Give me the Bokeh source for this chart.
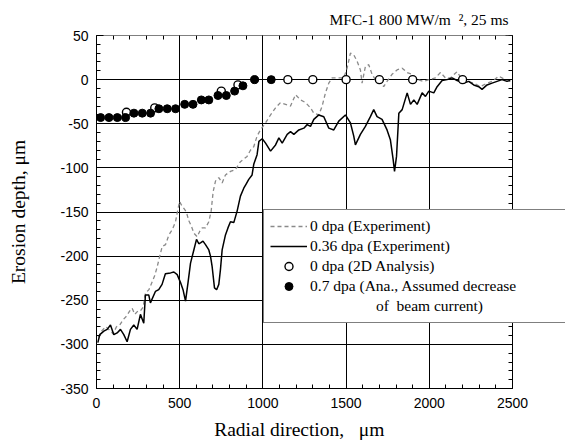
from bokeh.plotting import figure
from bokeh.models import (LinearAxis, Range1d, SingleIntervalTicker, Legend, LegendItem,
                          Grid, Title, PrintfTickFormatter)
from bokeh.embed import file_html
from bokeh.resources import INLINE

# ---------------- data ----------------
# 0.36 dpa (Experiment) - solid black
exp036_x = [8, 20, 44, 64, 84, 104, 124, 144, 164, 184, 204, 224, 244, 264, 284, 294, 314, 324,
            354, 374, 394, 414, 445, 465, 485, 505, 520, 535, 550, 565, 585, 601, 615, 625, 640,
            655, 675, 685, 695, 709, 722, 735, 745, 755, 775, 790, 805, 825, 845, 865, 885, 900,
            915, 935, 945, 965, 976, 996, 1016, 1046, 1076, 1096, 1116, 1146, 1166, 1186, 1216,
            1246, 1266, 1286, 1306, 1336, 1366, 1396, 1426, 1456, 1496, 1526, 1546, 1556, 1586,
            1616, 1646, 1666, 1686, 1716, 1746, 1766, 1783, 1791, 1803, 1817, 1837, 1867, 1887,
            1907, 1927, 1957, 1977, 1997, 2027, 2047, 2077, 2107, 2137, 2167, 2207, 2237, 2267,
            2297, 2317, 2347, 2377, 2407, 2437, 2467, 2487]
exp036_y = [-298, -289, -285, -283, -278, -289, -287, -283, -289, -297, -283, -278, -283, -266,
            -276, -244, -244, -253, -240, -238, -232, -220, -219, -218, -221, -230, -238, -251,
            -230, -208, -193, -181, -186, -185, -183, -187, -193, -200, -212, -236, -238, -232,
            -215, -193, -176, -168, -161, -162, -149, -132, -123, -118, -113, -108, -96, -85,
            -70, -67, -72, -81, -74, -66, -72, -62, -59, -62, -57, -55, -51, -53, -45, -40, -42,
            -55, -57, -47, -40, -49, -64, -74, -62, -53, -42, -34, -42, -45, -57, -68, -91, -104,
            -87, -38, -34, -15, -28, -23, -28, -15, -19, -13, -15, -8, -1, 0, 2, -1, -4, -2, -6,
            -8, -11, -6, -4, -2, 0, -2, -1]

# 0 dpa (Experiment) - grey dashed
exp0_x = [10, 30, 55, 80, 100, 120, 140, 160, 180, 200, 214, 230, 250, 264, 280, 294, 315, 335,
          350, 365, 380, 395, 415, 435, 455, 475, 489, 500, 510, 525, 540, 555, 570, 585, 605,
          620, 635, 655, 675, 689, 701, 715, 735, 755, 775, 805, 835, 865, 905, 925, 945, 965,
          985, 1016, 1046, 1076, 1106, 1136, 1166, 1196, 1226, 1256, 1286, 1306, 1336, 1356,
          1376, 1396, 1416, 1456, 1486, 1506, 1526, 1546, 1566, 1586, 1596, 1616, 1636, 1656,
          1676, 1706, 1726, 1746, 1776, 1806, 1837, 1867, 1897, 1927, 1967, 1997, 2037, 2067,
          2097, 2127, 2167, 2197, 2227, 2267, 2307, 2347, 2377, 2417, 2457, 2487]
exp0_y = [-292, -285, -280, -284, -288, -280, -278, -272, -268, -262, -259, -266, -262, -262,
          -258, -242, -238, -229, -222, -212, -200, -189, -187, -176, -170, -161, -147, -138,
          -142, -146, -150, -160, -166, -174, -178, -172, -168, -168, -161, -149, -127, -115,
          -111, -117, -108, -104, -102, -93, -87, -80, -76, -64, -57, -49, -40, -32, -26, -28,
          -30, -17, -23, -26, -32, -38, -40, -30, -15, -4, 2, 2, 2, 13, 30, 28, 21, 11, -4, 15,
          17, 6, 0, -2, -8, -2, 6, 11, 13, 8, 6, 0, -2, 0, 2, 8, 2, 2, 9, 0, -2, -4, -8, -4,
          -2, 4, 0, -1]

# 0 dpa (2D Analysis) - open circles
ana0_x = [180, 350, 750, 850, 1150, 1300, 1500, 1700, 1900, 2200]
ana0_y = [-37, -32, -13, -6, 0, 0, 0, 0, 0, 0]

# 0.7 dpa (Ana., assumed decrease of beam current) - filled circles
ana07_x = [25, 75, 125, 175, 225, 275, 325, 375, 425, 475, 530, 580, 630, 675, 730, 780, 830,
           880, 950, 1050]
ana07_y = [-43, -43, -43, -43, -38, -38, -38, -33, -33, -33, -28, -28, -23, -23, -18, -18, -13,
           -7, 0, 0]

legend_labels = ["0 dpa (Experiment)", "0.36 dpa (Experiment)", "0 dpa (2D Analysis)",
                 "0.7 dpa (Ana., Assumed decrease", "of\u00a0 beam current)"]
title_text = "MFC-1 800 MW/m\u00a0\u00a0\u00b2, 25 ms"
x_label = "Radial direction,\u00a0\u00a0\u00a0\u03bcm"
y_label = "Erosion depth, \u03bcm"

X_MIN, X_MAX = 0, 2500
Y_MIN, Y_MAX = -350, 50

# ---------------- figure ----------------
SERIF = "Liberation Serif"
SANS = "Liberation Sans"

# The frame runs to the right edge of the page so that the legend box can
# reach past the right axis, as in the original; the axes are bounded at 2500.
FRAME_L, AXIS_R, PAGE_W = 96, 512, 565
x_end = X_MAX * (PAGE_W - FRAME_L) / (AXIS_R - FRAME_L)

p = figure(width=565, height=444, output_backend="svg", toolbar_location=None,
           x_range=Range1d(X_MIN, x_end), y_range=Range1d(Y_MIN, Y_MAX),
           x_axis_type=None, y_axis_type=None,
           min_border_left=FRAME_L, min_border_right=0, min_border_top=35, min_border_bottom=56)
p.outline_line_color = None
p.background_fill_color = "white"
p.border_fill_color = "white"

xt = SingleIntervalTicker(interval=500, num_minor_ticks=5)
yt = SingleIntervalTicker(interval=50, num_minor_ticks=5)


def style_axis(ax, show_labels):
    ax.axis_line_color = "black"
    ax.axis_line_width = 1
    ax.major_tick_line_color = "black"
    ax.minor_tick_line_color = "black"
    ax.major_tick_in = 7
    ax.major_tick_out = 0
    ax.minor_tick_in = 4
    ax.minor_tick_out = 0
    ax.formatter = PrintfTickFormatter(format="%d")
    ax.major_label_text_font = SANS
    ax.major_label_text_font_size = "14px"
    ax.major_label_text_color = "black" if show_labels else None


# the label is centred on the frame, which runs past the axis end: trailing
# no-break spaces bring the visible words back over the 0-2500 axis
xb = LinearAxis(ticker=xt, axis_label=x_label + "\u00a0" * 13, bounds=(X_MIN, X_MAX))
style_axis(xb, True)
xb.major_label_standoff = 9
xb.axis_label_text_font = SERIF
xb.axis_label_text_font_style = "normal"
xb.axis_label_text_font_size = "19.5px"
xb.axis_label_text_color = "black"
xb.axis_label_standoff = 8
p.add_layout(xb, "below")

yl = LinearAxis(ticker=yt, axis_label=y_label, bounds=(Y_MIN, Y_MAX))
style_axis(yl, True)
yl.major_label_standoff = 8
yl.axis_label_text_font = SERIF
yl.axis_label_text_font_style = "normal"
yl.axis_label_text_font_size = "19.5px"
yl.axis_label_text_color = "black"
yl.axis_label_standoff = 28
p.add_layout(yl, "left")

xtop = LinearAxis(ticker=xt, bounds=(X_MIN, X_MAX), fixed_location=Y_MAX)
style_axis(xtop, False)
p.add_layout(xtop, "above")

yr = LinearAxis(ticker=yt, bounds=(Y_MIN, Y_MAX), fixed_location=X_MAX)
style_axis(yr, False)
p.add_layout(yr, "right")

p.add_layout(Grid(dimension=0, ticker=xt, grid_line_color="black", grid_line_width=1,
                  bounds=(X_MIN, X_MAX), cross_bounds=(Y_MIN, Y_MAX)))
p.add_layout(Grid(dimension=1, ticker=yt, grid_line_color="black", grid_line_width=1,
                  bounds=(Y_MIN, Y_MAX), cross_bounds=(X_MIN, X_MAX)))

# ---------------- glyphs ----------------
r_exp0 = p.line(exp0_x, exp0_y, line_color="#8a8a8a", line_width=1.3, line_dash="4 3")
r_exp036 = p.line(exp036_x, exp036_y, line_color="black", line_width=1.5)
r_ana0 = p.scatter(ana0_x, ana0_y, marker="circle", size=8, fill_color="white",
                   line_color="black", line_width=1.4)
r_ana07 = p.scatter(ana07_x, ana07_y, marker="circle", size=8, fill_color="black",
                    line_color="black", line_width=1)

legend = Legend(items=[
    LegendItem(label=legend_labels[0], renderers=[r_exp0]),
    LegendItem(label=legend_labels[1], renderers=[r_exp036]),
    LegendItem(label=legend_labels[2], renderers=[r_ana0]),
    LegendItem(label=legend_labels[3], renderers=[r_ana07]),
    LegendItem(label="\u00a0" * 17 + legend_labels[4], renderers=[]),
], location=(167, 65))
legend.border_line_color = "black"
legend.border_line_width = 1
legend.background_fill_color = "white"
legend.background_fill_alpha = 1
legend.padding = 6
legend.spacing = 0
legend.margin = 0
legend.label_height = 20
legend.glyph_height = 20
legend.glyph_width = 37
legend.label_standoff = 3
legend.label_width = 300
legend.label_text_font = SERIF
legend.label_text_font_size = "15.5px"
legend.label_text_color = "black"
p.add_layout(legend)

p.add_layout(Title(text=title_text, align="right", offset=PAGE_W - 508, standoff=16,
                   text_font=SERIF, text_font_size="15.5px", text_font_style="normal",
                   text_color="black"), "above")

open("out.html", "w").write(file_html(p, INLINE))
